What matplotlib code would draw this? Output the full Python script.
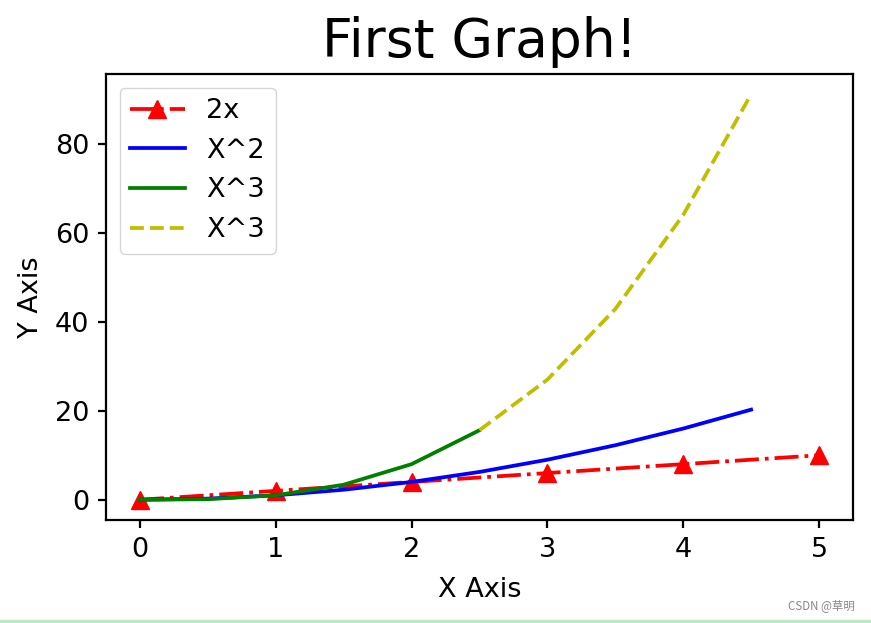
import matplotlib
matplotlib.use("Agg")
import matplotlib.pyplot as plt

# data
x_lin = [0, 1, 2, 3, 4, 5]
y_lin = [0, 2, 4, 6, 8, 10]

x_sq = [0, 0.5, 1, 1.5, 2, 2.5, 3, 3.5, 4, 4.5]
y_sq = [0, 0.25, 1, 2.25, 4, 6.25, 9, 12.25, 16, 20.25]

x_cube_a = [0, 0.5, 1, 1.5, 2, 2.5]
y_cube_a = [0, 0.125, 1, 3.375, 8, 15.625]

x_cube_b = [2.5, 3, 3.5, 4, 4.5]
y_cube_b = [15.625, 27, 42.875, 64, 91.125]


def main():
    fig = plt.figure(figsize=(8.71, 6.23), dpi=100)
    ax = fig.add_axes([0.1217, 0.1653, 0.8576, 0.7159])

    lw = 2.7
    ax.plot(x_lin, y_lin, 'r^-.', label='2x', linewidth=lw, markersize=13.5)
    ax.plot(x_sq, y_sq, 'b', label='X^2', linewidth=lw)
    ax.plot(x_cube_a, y_cube_a, 'g', label='X^3', linewidth=lw)
    ax.plot(x_cube_b, y_cube_b, 'y--', label='X^3', linewidth=lw)

    ax.set_title('First Graph!', fontsize=38.5, pad=12)
    ax.set_xlabel('X Axis', fontsize=19.5, labelpad=10)
    ax.set_ylabel('Y Axis', fontsize=19.5, labelpad=8)
    ax.set_xticks([0, 1, 2, 3, 4, 5])
    ax.tick_params(labelsize=19.5, width=1.6, length=6, pad=6)
    for s in ax.spines.values():
        s.set_linewidth(1.6)

    ax.legend(fontsize=19.5, loc='upper left', handlelength=2.0)

    fig.text(0.981, 0.022, 'CSDN @草明', fontsize=8.3, color='#888888', ha='right',
             family=['Noto Sans CJK SC', 'DejaVu Sans'])
    fig.add_artist(plt.Line2D([0, 1], [0.003, 0.003], color='#bfe8c4', linewidth=2.5,
                              transform=fig.transFigure))

    fig.savefig('out.png', dpi=100)
    plt.close(fig)


if __name__ == "__main__":
    main()
